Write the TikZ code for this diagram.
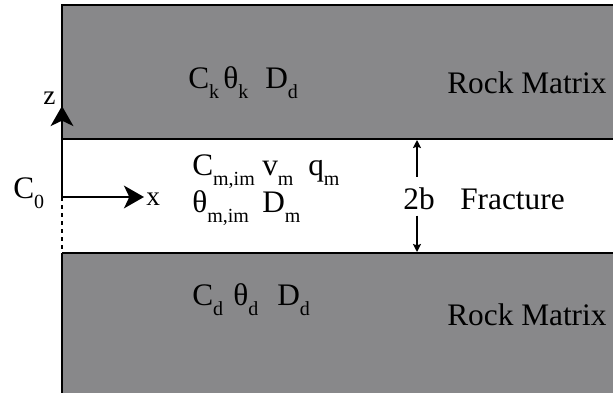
\documentclass[tikz,border=0pt]{standalone}
\usepackage{fontspec}
\setmainfont{Liberation Serif}
\usetikzlibrary{arrows.meta}

\definecolor{rockgray}{RGB}{136,136,138}
\newcommand{\lowsub}[1]{\raisebox{-7.5pt}{\fontsize{15}{15}\selectfont #1}}

\begin{document}
\begin{tikzpicture}[x=0.75pt, y=-0.75pt,
    lbl/.style={inner sep=0pt, anchor=base west, font=\fontsize{23.5}{26}\selectfont},
    axlbl/.style={inner sep=0pt, anchor=base west, font=\fontsize{20.5}{22}\selectfont},
    bound/.style={line width=2.2pt},
    axis/.style={line width=1.8pt, -{Stealth[length=15pt, width=17pt, inset=4pt]}},
    dim/.style={line width=1.2pt, -{Stealth[length=6pt, width=6pt, inset=1pt]}}
]
\useasboundingbox (0,0) rectangle (613,393);
% rock matrix blocks
\fill[rockgray] (62,5) rectangle (613,139);
\fill[rockgray] (62,253) rectangle (613,393);
\draw[bound] (613,5) -- (62,5) -- (62,139);
\draw[bound] (62,139) -- (613,139);
\draw[bound] (62,253) -- (613,253);
\draw[bound] (62,253) -- (62,393);

% axes
\coordinate (O) at (62,197);
\coordinate (ztip) at (62,106);
\coordinate (xtip) at (144,197);
\coordinate (fbase) at (62,253);
\draw[axis] (O) -- (ztip);
\draw[axis] (O) -- (xtip);
\draw[line width=2.2pt, dash pattern=on 3pt off 3pt] (O) -- (fbase);
\node[axlbl] (zlab) at (43,104) {z};
\node[axlbl] (xlab) at (146,205) {x};
\node[lbl] (inlet) at (13,198) {C\lowsub{0}};

% upper matrix
\node[lbl] (ck) at (188,88) {C\lowsub{k}};
\node[lbl] (thk) at (223,88) {θ\lowsub{k}};
\node[lbl] (dtop) at (265,88) {D\lowsub{d}};
\node[lbl] (rocktop) at (447,93) {Rock Matrix};

% fracture
\node[lbl] (cm) at (192,175) {C\lowsub{m,im}};
\node[lbl] (vm) at (262,175) {v\lowsub{m}};
\node[lbl] (qm) at (308,175) {q\lowsub{m}};
\node[lbl] (thm) at (192,212) {θ\lowsub{m,im}};
\node[lbl] (dm) at (262,212) {D\lowsub{m}};
\node[lbl] (frac) at (460,209) {Fracture};
\node[lbl, anchor=base] (gap) at (419,209) {2b};
\coordinate (ftop) at (417,140);
\coordinate (fbot) at (417,252);
\draw[dim] ([yshift=7.5pt]gap.north -| ftop) -- (ftop);
\draw[dim] ([yshift=-4.5pt]gap.south -| fbot) -- (fbot);

% lower matrix
\node[lbl] (cd) at (192,305) {C\lowsub{d}};
\node[lbl] (thd) at (233,305) {θ\lowsub{d}};
\node[lbl] (dbot) at (277,305) {D\lowsub{d}};
\node[lbl] (rockbot) at (447,325) {Rock Matrix};
\end{tikzpicture}
\end{document}
